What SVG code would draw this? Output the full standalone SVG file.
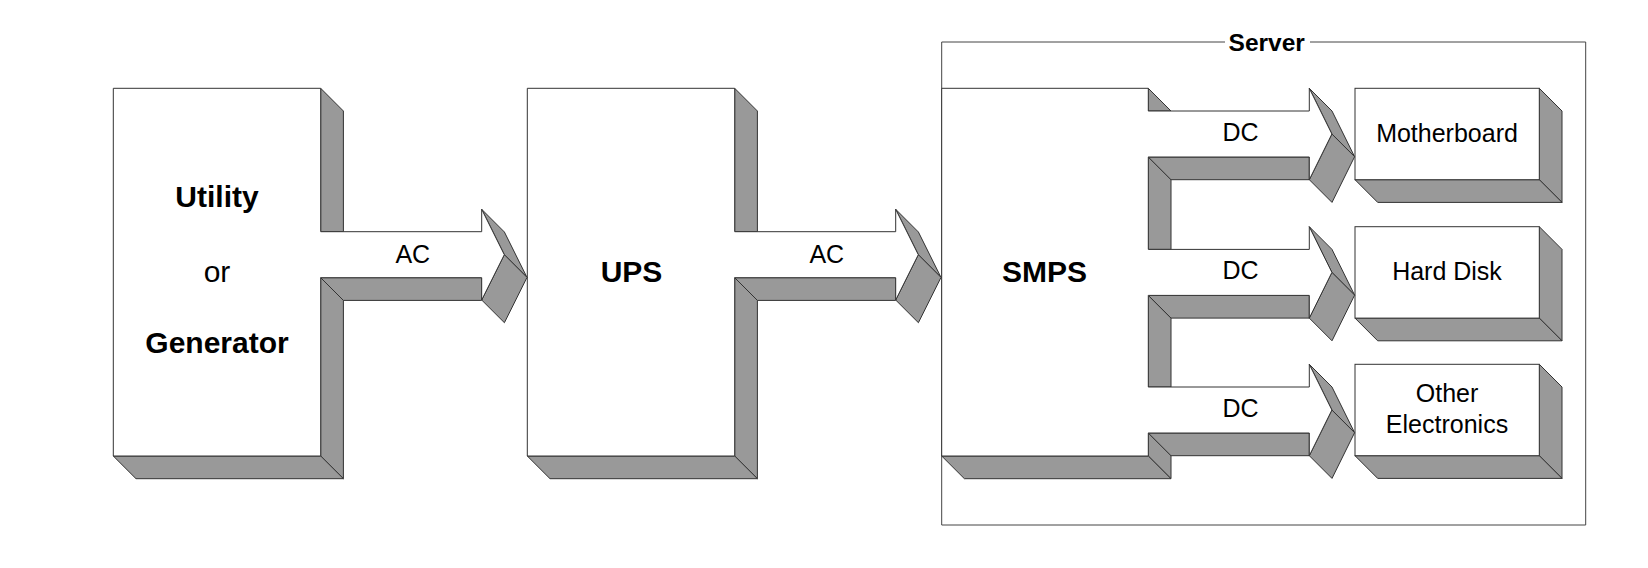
<svg xmlns="http://www.w3.org/2000/svg" width="1648" height="568" viewBox="0 0 1648 568">
<style>
.front{fill:#ffffff;stroke:#333333;stroke-width:1;stroke-linejoin:miter}
.fill{fill:#ffffff;stroke:none}
.edge{fill:none;stroke:#333333;stroke-width:1;stroke-linejoin:miter}
.side{fill:#999999;stroke:#333333;stroke-width:1;stroke-linejoin:miter}
.frame{fill:none;stroke:#444444;stroke-width:1}
text{font-family:"Liberation Sans",Arial,Helvetica,sans-serif;fill:#000000;text-anchor:middle}
.b30{font-size:30px;font-weight:bold}
.r30{font-size:30px}
.lbl{font-size:25px}
.srv{font-size:24.5px;font-weight:bold}
</style>
<rect x="0" y="0" width="1648" height="568" fill="#ffffff"/>

<g id="server-frame">
<path class="frame" d="M1225,42 H941.7 V525 H1585.7 V42 H1310"/>
<text class="srv" x="1266.7" y="51.3">Server</text>
</g>

<g id="utility">
<polygon class="side" points="320.7,88.3 343.4,111 343.4,231.7 320.7,231.7"/>
<polygon class="side" points="320.7,277.7 343.4,300.4 343.4,478.7 320.7,456"/>
<polygon class="side" points="113.3,456 320.7,456 343.4,478.7 136,478.7"/>
<rect class="fill" x="113.3" y="88.3" width="207.4" height="367.7"/>
<path class="edge" d="M320.7,231.7 V88.3 H113.3 V456 H320.7 V277.7"/>
<text class="b30" x="217" y="206.7">Utility</text>
<text class="r30" x="217" y="281.7">or</text>
<text class="b30" x="217" y="353.3">Generator</text>
</g>

<g id="ups">
<polygon class="side" points="734.7,88.3 757.4,111 757.4,231.7 734.7,231.7"/>
<polygon class="side" points="734.7,277.7 757.4,300.4 757.4,478.7 734.7,456"/>
<polygon class="side" points="527.3,456 734.7,456 757.4,478.7 550,478.7"/>
<rect class="fill" x="527.3" y="88.3" width="207.4" height="367.7"/>
<path class="edge" d="M734.7,231.7 V88.3 H527.3 V456 H734.7 V277.7"/>
<text class="b30" x="631.5" y="281.7">UPS</text>
</g>

<g id="smps">
<polygon class="side" points="1148.3,88.3 1171,111 1148.3,111"/>
<polygon class="side" points="1148.3,157 1171,179.7 1171,249.4 1148.3,249.4"/>
<polygon class="side" points="1148.3,295.4 1171,318.1 1171,387 1148.3,387"/>
<polygon class="side" points="1148.3,433 1171,455.7 1171,478.7 1148.3,456"/>
<polygon class="side" points="941.7,456 1148.3,456 1171,478.7 964.4,478.7"/>
<rect class="fill" x="941.7" y="88.3" width="206.6" height="367.7"/>
<path class="edge" d="M1148.3,111 V88.3 H941.7 V456 H1148.3 V433 M1148.3,157 V249.4 M1148.3,295.4 V387"/>
<text class="b30" x="1044.5" y="282">SMPS</text>
</g>

<g id="motherboard">
<polygon class="side" points="1539.3,88.3 1562,111 1562,202.4 1539.3,179.7"/>
<polygon class="side" points="1355,179.7 1539.3,179.7 1562,202.4 1377.7,202.4"/>
<rect class="front" x="1355" y="88.3" width="184.3" height="91.4"/>
<text class="lbl" x="1447" y="142.3">Motherboard</text>
</g>

<g id="hard-disk">
<polygon class="side" points="1539.3,226.7 1562,249.4 1562,340.8 1539.3,318.1"/>
<polygon class="side" points="1355,318.1 1539.3,318.1 1562,340.8 1377.7,340.8"/>
<rect class="front" x="1355" y="226.7" width="184.3" height="91.4"/>
<text class="lbl" x="1447" y="279.5">Hard Disk</text>
</g>

<g id="other-electronics">
<polygon class="side" points="1539.3,364.3 1562,387 1562,478.4 1539.3,455.7"/>
<polygon class="side" points="1355,455.7 1539.3,455.7 1562,478.4 1377.7,478.4"/>
<rect class="front" x="1355" y="364.3" width="184.3" height="91.4"/>
<text class="lbl" x="1447" y="401.7">Other</text>
<text class="lbl" x="1447" y="432.7">Electronics</text>
</g>

<g id="connectors">
<!-- AC arrow 1 -->
<polygon class="side" points="320.7,277.7 481.7,277.7 481.7,300.4 343.4,300.4"/>
<polygon class="side" points="481.7,209.3 504.3,254.7 527,277.4 504.4,232"/>
<polygon class="side" points="504.3,254.7 527,277.4 504.4,322.7 481.7,300"/>
<path class="front" d="M320.7,231.7 H481.7 V209.3 L504.3,254.7 L481.7,300 V277.7 H320.7"/>
<text class="lbl" x="412.8" y="262.7">AC</text>

<!-- AC arrow 2 -->
<polygon class="side" points="734.7,277.7 895.7,277.7 895.7,300.4 757.4,300.4"/>
<polygon class="side" points="895.7,209.3 918.3,254.7 941,277.4 918.4,232"/>
<polygon class="side" points="918.3,254.7 941,277.4 918.4,322.7 895.7,300"/>
<path class="front" d="M734.7,231.7 H895.7 V209.3 L918.3,254.7 L895.7,300 V277.7 H734.7"/>
<text class="lbl" x="826.8" y="262.7">AC</text>

<!-- DC arrow 1 -->
<polygon class="side" points="1148.3,157 1309.3,157 1309.3,179.7 1171,179.7"/>
<polygon class="side" points="1309.3,88.3 1331.9,134 1354.6,156.7 1332,111"/>
<polygon class="side" points="1331.9,134 1354.6,156.7 1332,202.4 1309.3,179.7"/>
<path class="front" d="M1148.3,111 H1309.3 V88.3 L1331.9,134 L1309.3,179.7 V157 H1148.3"/>
<text class="lbl" x="1240.5" y="141">DC</text>

<!-- DC arrow 2 -->
<polygon class="side" points="1148.3,295.4 1309.3,295.4 1309.3,318.1 1171,318.1"/>
<polygon class="side" points="1309.3,226.7 1331.9,272.4 1354.6,295.1 1332,249.4"/>
<polygon class="side" points="1331.9,272.4 1354.6,295.1 1332,340.8 1309.3,318.1"/>
<path class="front" d="M1148.3,249.4 H1309.3 V226.7 L1331.9,272.4 L1309.3,318.1 V295.4 H1148.3"/>
<text class="lbl" x="1240.5" y="279.2">DC</text>

<!-- DC arrow 3 -->
<polygon class="side" points="1148.3,433 1309.3,433 1309.3,455.7 1171,455.7"/>
<polygon class="side" points="1309.3,364.3 1331.9,410 1354.6,432.7 1332,387"/>
<polygon class="side" points="1331.9,410 1354.6,432.7 1332,478.4 1309.3,455.7"/>
<path class="front" d="M1148.3,387 H1309.3 V364.3 L1331.9,410 L1309.3,455.7 V433 H1148.3"/>
<text class="lbl" x="1240.5" y="417.4">DC</text>
</g>
</svg>
